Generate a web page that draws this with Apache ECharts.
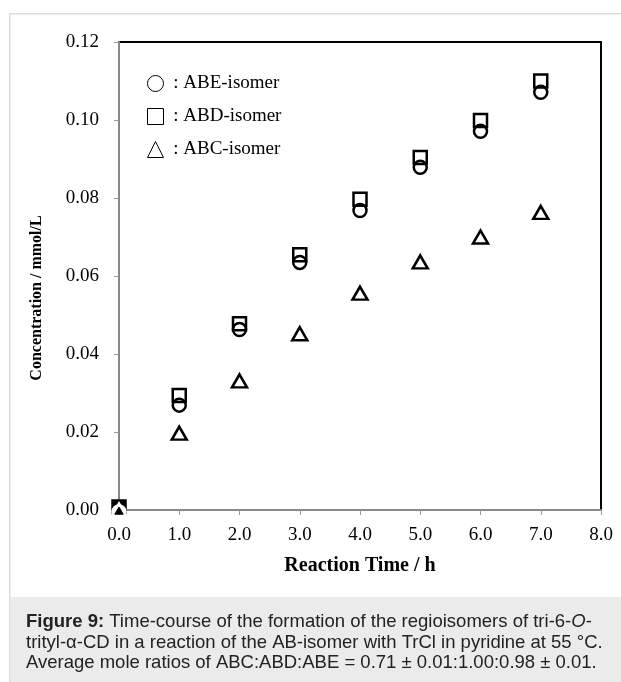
<!DOCTYPE html>
<html>
<head>
<meta charset="utf-8">
<script src="https://cdn.jsdelivr.net/npm/echarts@6/dist/echarts.min.js"></script>
<style>
html,body{margin:0;padding:0;background:#fff;}
#chart{width:621px;height:682px;}
</style>
</head>
<body>
<div id="chart"></div>
<script>
var times = [0, 1, 2, 3, 4, 5, 6, 7];
var abeValues = [0, 0.0274, 0.0468, 0.0640, 0.0773, 0.0884, 0.0976, 0.1076];
var abdValues = [0, 0.0286, 0.0470, 0.0647, 0.0789, 0.0896, 0.0991, 0.1092];
var abcValues = [0, 0.0197, 0.0331, 0.0452, 0.0556, 0.0636, 0.0700, 0.0763];
var xTicks = ['0.0','1.0','2.0','3.0','4.0','5.0','6.0','7.0','8.0'];
var yTicks = ['0.00','0.02','0.04','0.06','0.08','0.10','0.12'];
var seriesNames = ['ABE-isomer', 'ABD-isomer', 'ABC-isomer'];

function pairs(vals){ return times.map(function(t,i){ return [t, vals[i]]; }); }

var serif = '"Liberation Serif","DejaVu Serif",serif';
var sans = '"Liberation Sans",Arial,sans-serif';

var chart = echarts.init(document.getElementById('chart'), null, {renderer:'canvas'});

var abdData = pairs(abdValues).map(function(p, i){
  if (i === 0) return {value: p, itemStyle: {color: '#000'}};
  return p;
});
var abeData = pairs(abeValues).map(function(p, i){
  if (i === 0) return {value: p, itemStyle: {borderColor: '#fff'}};
  return p;
});
var abcData = pairs(abcValues).map(function(p, i){
  if (i === 0) return {value: p, itemStyle: {borderColor: '#fff'}};
  return p;
});

var option = {
  backgroundColor: '#fff',
  animation: false,
  grid: {left: 119, right: 20, top: 42, bottom: 172, show: true, borderColor: '#000', borderWidth: 2, backgroundColor: 'transparent'},
  xAxis: {
    type: 'value', min: 0, max: 8, interval: 1,
    name: 'Reaction Time / h', nameLocation: 'middle', nameGap: 46,
    nameTextStyle: {fontFamily: serif, fontWeight: 'bold', fontSize: 20, color: '#000'},
    axisLine: {show: true, lineStyle: {color: '#888', width: 2}},
    axisTick: {show: true, length: 5, lineStyle: {color: '#999', width: 1}},
    axisLabel: {fontFamily: serif, fontSize: 19, color: '#000', margin: 16,
      formatter: function(v){ return xTicks[Math.round(v)]; }},
    splitLine: {show: false}
  },
  yAxis: {
    type: 'value', min: 0, max: 0.12, interval: 0.02,
    axisLine: {show: true, lineStyle: {color: '#888', width: 2}},
    axisTick: {show: true, length: 5, lineStyle: {color: '#999', width: 1}},
    axisLabel: {fontFamily: serif, fontSize: 19, color: '#000', margin: 20,
      formatter: function(v){ return yTicks[Math.round(v / 0.02)]; }},
    splitLine: {show: false}
  },
  legend: {
    orient: 'vertical', left: 142, top: 69, itemGap: 14,
    itemWidth: 16, itemHeight: 16,
    data: [
      {name: seriesNames[0], icon: 'circle'},
      {name: seriesNames[1], icon: 'rect'},
      {name: seriesNames[2], icon: 'triangle'}
    ],
    itemStyle: {color: 'transparent', borderColor: '#000', borderWidth: 1},
    formatter: function(n){ return ' : ' + n; },
    textStyle: {fontFamily: serif, fontSize: 19, color: '#000'}
  },
  series: [
    {name: seriesNames[1], type: 'scatter', data: abdData, symbol: 'rect', symbolSize: 13,
     symbolOffset: [0, -3],
     itemStyle: {color: '#fff', borderColor: '#000', borderWidth: 2.5, opacity: 1}, z: 2},
    {name: seriesNames[0], type: 'scatter', data: abeData, symbol: 'circle', symbolSize: 13,
     symbolOffset: [0, 2],
     itemStyle: {color: 'transparent', borderColor: '#000', borderWidth: 2.5, opacity: 1}, z: 3},
    {name: seriesNames[2], type: 'scatter', data: abcData,
     symbol: 'triangle', symbolSize: [15, 13],
     itemStyle: {color: 'transparent', borderColor: '#000', borderWidth: 2.5, opacity: 1}, z: 4}
  ],
  graphic: [
    {type: 'rect', left: 9, top: 13, silent: true, z: -10,
     shape: {x: 0, y: 0, width: 640, height: 700},
     style: {fill: 'transparent', stroke: '#dcdcdc', lineWidth: 1.5}},
    {type: 'rect', left: 10, top: 597, silent: true, z: -5,
     shape: {x: 0, y: 0, width: 620, height: 90},
     style: {fill: '#ebebeb'}},
    {type: 'text', x: 37, y: 298, rotation: Math.PI / 2, silent: true,
     style: {text: 'Concentration / mmol/L', font: 'bold 16px ' + serif, fill: '#000',
       textAlign: 'center', textVerticalAlign: 'middle'}},
    {type: 'text', left: 26, top: 612, silent: true,
     style: {
       text: '{b|Figure 9:} Time-course of the formation of the regioisomers of tri-6-{i|O}-\n' +
             'trityl-α-CD in a reaction of the AB-isomer with TrCl in pyridine at 55 °C.\n' +
             'Average mole ratios of ABC:ABD:ABE = 0.71 ± 0.01:1.00:0.98 ± 0.01.',
       font: '18.5px ' + sans, fill: '#222', lineHeight: 20.5,
       rich: {
         b: {fontWeight: 'bold', fontFamily: sans, fontSize: 18.5, fill: '#222', lineHeight: 20.5},
         i: {fontStyle: 'italic', fontFamily: sans, fontSize: 18.5, fill: '#222', lineHeight: 20.5}
       }
     }}
  ]
};
chart.setOption(option);
</script>
</body>
</html>
